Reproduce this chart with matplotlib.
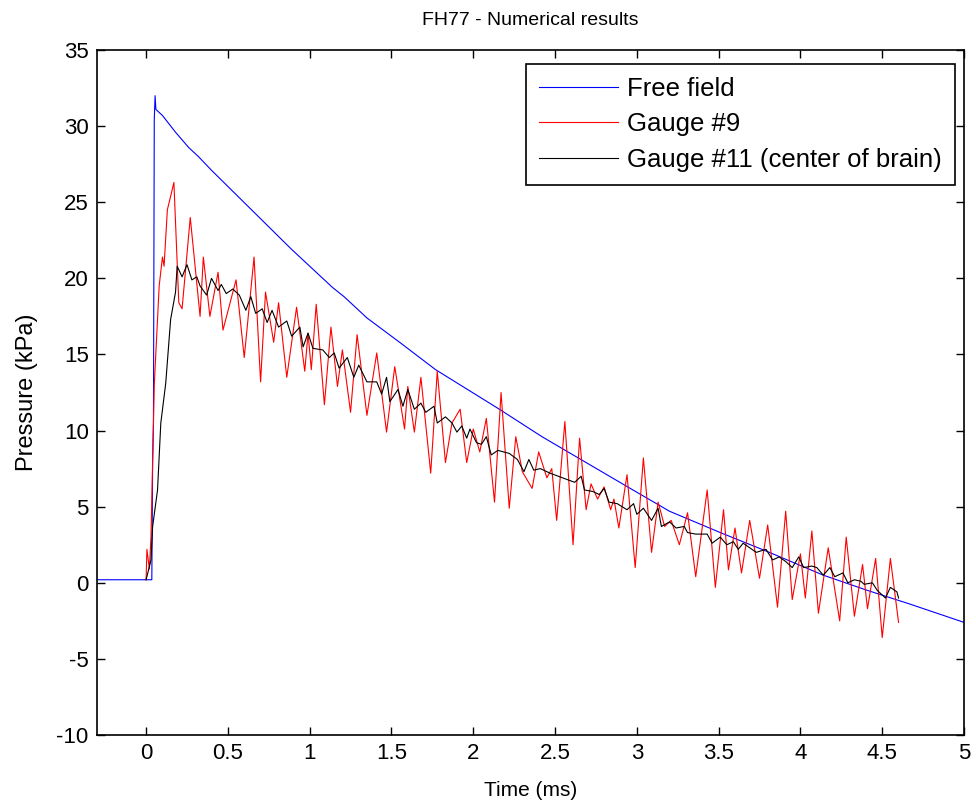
import matplotlib
matplotlib.use('Agg')
import matplotlib.pyplot as plt
import numpy as np

plt.rcParams['font.family'] = ['Liberation Sans', 'DejaVu Sans']
plt.rcParams['axes.unicode_minus'] = False

# Free field (blue)
free_t = [-0.3, 0.035, 0.04, 0.045, 0.05, 0.055, 0.06, 0.10, 0.18, 0.26, 0.32, 0.40,
          0.89, 0.94, 1.14, 1.21, 1.35, 1.55, 1.77, 1.98, 2.16, 2.42, 2.69, 2.96,
          3.20, 3.51, 3.81, 4.14, 4.41, 4.67, 5.0]
free_p = [0.2, 0.2, 8.0, 10.5, 30.4, 32.0, 31.1, 30.7, 29.6, 28.6, 28.0, 27.1,
          21.9, 21.4, 19.4, 18.8, 17.4, 15.8, 14.0, 12.6, 11.4, 9.6, 7.9, 6.2,
          4.7, 3.3, 2.0, 0.5, -0.5, -1.4, -2.6]

# Gauge #9 (red)
g9_t = [0.0, 0.005, 0.02, 0.03, 0.05, 0.08, 0.10, 0.11, 0.13, 0.17, 0.20, 0.22,
        0.27, 0.33, 0.35, 0.39, 0.44, 0.47, 0.55, 0.60, 0.66, 0.70, 0.73, 0.78,
        0.81, 0.86, 0.92, 0.97, 0.99, 1.01, 1.04, 1.09, 1.13, 1.17, 1.20, 1.25,
        1.29, 1.35, 1.41, 1.47, 1.52, 1.58, 1.60, 1.64, 1.68, 1.74, 1.78, 1.83,
        1.87, 1.92, 1.96, 2.00, 2.04, 2.08, 2.13, 2.17, 2.22, 2.26, 2.30, 2.36,
        2.40, 2.45, 2.48, 2.51, 2.56, 2.61, 2.65, 2.69, 2.72, 2.76, 2.80, 2.84,
        2.86, 2.89, 2.94, 2.99, 3.04, 3.09, 3.13, 3.17, 3.21, 3.26, 3.31, 3.36,
        3.43, 3.48, 3.53, 3.56, 3.60, 3.64, 3.69, 3.75, 3.80, 3.86, 3.91, 3.95,
        4.00, 4.03, 4.07, 4.11, 4.17, 4.24, 4.28, 4.33, 4.38, 4.41, 4.46, 4.50,
        4.55, 4.60]
g9_p = [0.2, 2.2, 0.9, 3.0, 13.0, 19.5, 21.4, 20.8, 24.5, 26.3, 18.4, 18.0,
        24.0, 17.5, 21.4, 17.5, 20.4, 16.6, 19.9, 14.8, 21.4, 13.2, 19.1, 15.8,
        18.4, 13.5, 18.1, 13.9, 16.4, 14.0, 18.3, 11.7, 16.8, 12.9, 15.3, 11.2,
        16.3, 11.0, 15.1, 9.9, 14.2, 10.1, 12.9, 9.9, 13.5, 7.2, 13.9, 7.9,
        10.5, 11.4, 7.9, 10.1, 8.6, 10.8, 5.3, 12.5, 4.9, 9.6, 7.3, 6.2,
        8.6, 6.9, 7.5, 4.1, 10.6, 2.5, 9.5, 4.8, 6.5, 5.5, 6.3, 4.8,
        5.5, 3.6, 7.1, 1.0, 8.2, 2.0, 5.3, 3.7, 4.1, 2.5, 4.6, 0.4,
        6.1, -0.3, 4.8, 0.85, 3.6, 0.65, 4.1, 0.3, 3.8, -1.6, 4.7, -1.1,
        1.9, -1.0, 3.4, -2.0, 2.3, -2.5, 3.0, -2.2, 1.2, -1.7, 1.6, -3.6,
        1.6, -2.6]

# Gauge #11, center of brain (black)
g11_t = [0.0, 0.03, 0.04, 0.07, 0.09, 0.12, 0.15, 0.18, 0.19, 0.22, 0.25, 0.28,
         0.31, 0.33, 0.37, 0.40, 0.44, 0.46, 0.49, 0.53, 0.57, 0.61, 0.64, 0.67,
         0.71, 0.74, 0.77, 0.81, 0.86, 0.89, 0.94, 0.96, 0.99, 1.02, 1.08, 1.12,
         1.15, 1.18, 1.23, 1.27, 1.30, 1.35, 1.41, 1.44, 1.47, 1.49, 1.54, 1.57,
         1.60, 1.64, 1.68, 1.71, 1.76, 1.78, 1.83, 1.87, 1.90, 1.93, 1.96, 1.98,
         2.02, 2.05, 2.08, 2.11, 2.15, 2.22, 2.27, 2.31, 2.34, 2.37, 2.41, 2.47,
         2.52, 2.57, 2.62, 2.66, 2.68, 2.73, 2.77, 2.80, 2.83, 2.88, 2.91, 2.94,
         2.98, 3.00, 3.04, 3.09, 3.13, 3.15, 3.20, 3.24, 3.29, 3.31, 3.36, 3.43,
         3.46, 3.51, 3.55, 3.59, 3.62, 3.65, 3.69, 3.73, 3.79, 3.83, 3.87, 3.91,
         3.95, 3.99, 4.02, 4.07, 4.10, 4.14, 4.18, 4.21, 4.26, 4.29, 4.33, 4.37,
         4.39, 4.44, 4.47, 4.52, 4.55, 4.59, 4.60]
g11_p = [0.2, 1.5, 3.7, 6.1, 10.5, 13.1, 17.3, 19.1, 20.8, 20.1, 20.9, 19.9,
         20.1, 19.5, 18.9, 20.0, 19.2, 19.6, 19.0, 19.3, 18.9, 17.9, 18.8, 17.7,
         18.0, 17.1, 17.9, 16.8, 17.2, 16.2, 16.8, 15.5, 16.4, 15.4, 15.3, 14.8,
         15.1, 14.1, 14.8, 13.5, 14.3, 13.2, 13.2, 12.4, 13.5, 11.9, 12.7, 11.6,
         12.7, 11.4, 11.8, 11.2, 11.6, 10.5, 10.9, 10.5, 9.9, 10.3, 9.5, 10.1,
         9.2, 9.1, 9.6, 8.4, 8.7, 8.5, 8.1, 7.3, 8.1, 7.4, 7.5, 7.2,
         7.0, 6.8, 6.6, 7.0, 6.1, 6.0, 5.8, 6.2, 5.3, 5.2, 5.0, 4.8,
         5.2, 4.5, 4.9, 4.1, 4.9, 3.7, 4.0, 3.6, 3.7, 3.3, 3.2, 3.2,
         2.6, 3.0, 2.5, 2.7, 2.2, 2.6, 2.3, 2.0, 2.2, 1.5, 1.7, 1.4,
         1.0, 1.7, 1.0, 1.1, 1.0, 0.5, 1.0, 0.4, 0.65, 0.0, 0.2, 0.1,
         -0.1, 0.0, -0.5, -1.0, -0.3, -0.6, -1.0]

x_ticks = [0, 0.5, 1, 1.5, 2, 2.5, 3, 3.5, 4, 4.5, 5]
x_labels = ['0', '0.5', '1', '1.5', '2', '2.5', '3', '3.5', '4', '4.5', '5']
y_ticks = [-10, -5, 0, 5, 10, 15, 20, 25, 30, 35]

fig = plt.figure(figsize=(9.76, 8.07), dpi=100)
ax = fig.add_axes([0.0994, 0.0892, 0.8883, 0.8488])

ax.plot(free_t, free_p, color='#0000FF', lw=0.8, label='Free field')
ax.plot(g9_t, g9_p, color='#FF0000', lw=0.8, label='Gauge #9')
ax.plot(g11_t, g11_p, color='black', lw=0.8, label='Gauge #11 (center of brain)')

ax.set_xlim(-0.3, 5)
ax.set_ylim(-10, 35)
ax.set_xticks(x_ticks)
ax.set_xticklabels(x_labels)
ax.set_yticks(y_ticks)
ax.tick_params(direction='in', top=True, right=True, length=6, width=1,
               labelsize=16)
ax.tick_params(axis='x', pad=6)
ax.tick_params(axis='y', pad=6)
for s in ax.spines.values():
    s.set_linewidth(1.2)

ax.set_title('FH77 - Numerical results', fontsize=14, pad=18)
ax.set_xlabel('Time (ms)', fontsize=15, labelpad=12)
ax.set_ylabel('Pressure (kPa)', fontsize=17, labelpad=13)

leg = ax.legend(loc='upper right', bbox_to_anchor=(0.9896, 0.9796), fontsize=18.5,
                fancybox=False, framealpha=1, edgecolor='black',
                handlelength=3.1, handletextpad=0.35, labelspacing=0.45,
                borderpad=0.5, borderaxespad=0)
leg.get_frame().set_linewidth(1.2)

fig.savefig('out.png', dpi=100)
